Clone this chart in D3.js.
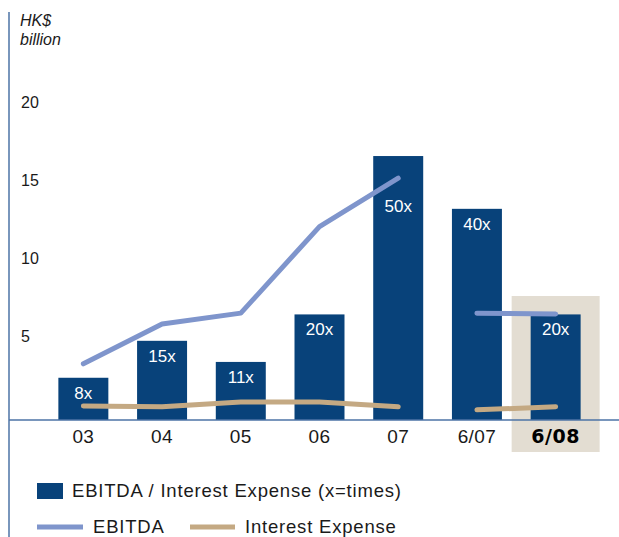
<html>
<head>
<script src="https://d3js.org/d3.v7.min.js"></script>
<style>
  body { margin: 0; background: #fff; }
  text { font-family: "Liberation Sans", Arial, sans-serif; }
</style>
</head>
<body>
<svg width="619" height="537"></svg>
<script>
// data
var periods = ["03", "04", "05", "06", "07", "6/07", "6/08"];
var coverRatio = [8, 15, 11, 20, 50, 40, 20];          // EBITDA / interest expense (x)
var ebitda = [3.6, 6.15, 6.85, 12.4, 15.5, 6.85, 6.8];  // HK$ billion
var interest = [0.9, 0.85, 1.15, 1.15, 0.85, 0.65, 0.85];
var yTicks = [5, 10, 15, 20];
// line segments: annual years and the half-year pair are drawn separately
var segments = [[0, 1, 2, 3, 4], [5, 6]];

var svg = d3.select("svg");

var x = d3.scaleBand()
  .domain(periods)
  .range([44, 595])
  .paddingInner(0.365)
  .paddingOuter(0.1825);

var y = d3.scaleLinear().domain([0, 20]).range([420, 108]);
// bars are scaled on the times-cover value
var yr = d3.scaleLinear().domain([0, 59.1]).range([420, 108]);

// highlight for latest half-year
var hl = periods[periods.length - 1];
svg.append("rect")
  .attr("x", x(hl) - 19)
  .attr("y", 296)
  .attr("width", x.bandwidth() + 38)
  .attr("height", 156)
  .attr("fill", "#e3ddd2");

// bars
svg.selectAll(".bar")
  .data(coverRatio)
  .enter()
  .append("rect")
    .attr("x", function(d, i) { return x(periods[i]); })
    .attr("y", function(d) { return yr(d); })
    .attr("width", x.bandwidth())
    .attr("height", function(d) { return yr(0) - yr(d); })
    .attr("fill", "#08427a");

// lines
var line = d3.line()
  .x(function(i) { return x(periods[i]) + x.bandwidth() / 2; });

function drawLine(vals, color) {
  segments.forEach(function(seg) {
    svg.append("path")
      .attr("d", line.y(function(i) { return y(vals[i]); })(seg))
      .attr("fill", "none")
      .attr("stroke", color)
      .attr("stroke-width", 5)
      .attr("stroke-linecap", "round")
      .attr("stroke-linejoin", "round");
  });
}
drawLine(interest, "#c4a983");
drawLine(ebitda, "#7f95cc");

// bar labels (pushed below the EBITDA line where it crosses the bar top)
svg.selectAll(".lbl")
  .data(coverRatio)
  .enter()
  .append("text")
    .attr("x", function(d, i) { return x(periods[i]) + x.bandwidth() / 2; })
    .attr("y", function(d, i) {
      var top = yr(d), ly = y(ebitda[i]);
      if (ly > top && ly - top < 35) return ly + 34;
      return top + 21;
    })
    .attr("text-anchor", "middle")
    .attr("fill", "#fff")
    .attr("font-size", 17)
    .text(function(d) { return d + "x"; });

// axes lines
svg.append("line")
  .attr("x1", 9).attr("x2", 9).attr("y1", 12).attr("y2", 537)
  .attr("stroke", "#4d73a6").attr("stroke-width", 1.5);
svg.append("line")
  .attr("x1", 9).attr("x2", 619).attr("y1", y(0)).attr("y2", y(0))
  .attr("stroke", "#4d73a6").attr("stroke-width", 1.5);

// y tick labels
svg.selectAll(".yt")
  .data(yTicks)
  .enter()
  .append("text")
    .attr("x", 21)
    .attr("y", function(d) { return y(d); })
    .attr("font-size", 16)
    .attr("fill", "#1a1a1a")
    .text(function(d) { return d; });

svg.append("text").attr("x", 20).attr("y", 26)
  .attr("font-size", 16).attr("font-style", "italic").attr("fill", "#1a1a1a")
  .text("HK$");
svg.append("text").attr("x", 20).attr("y", 45)
  .attr("font-size", 16).attr("font-style", "italic").attr("fill", "#1a1a1a")
  .text("billion");

// x labels
svg.selectAll(".xt")
  .data(periods)
  .enter()
  .append("text")
    .attr("x", function(d) { return x(d) + x.bandwidth() / 2; })
    .attr("y", 443)
    .attr("text-anchor", "middle")
    .attr("font-size", 19)
    .attr("letter-spacing", function(d) { return d === hl ? 0.6 : 0.4; })
    .style("font-family", function(d) { return d === hl ? "'DejaVu Sans', sans-serif" : null; })
    .attr("font-weight", function(d) { return d === hl ? "bold" : "normal"; })
    .attr("fill", function(d) { return d === hl ? "#000" : "#1a1a1a"; })
    .text(function(d) { return d; });

// legend
var lg = svg.append("g")
  .attr("font-size", 18.5)
  .attr("letter-spacing", 0.8)
  .attr("fill", "#1a1a1a");
lg.append("rect").attr("x", 37).attr("y", 483).attr("width", 26).attr("height", 16)
  .attr("fill", "#08427a");
lg.append("text").attr("x", 72).attr("y", 497)
  .text("EBITDA / Interest Expense (x=times)");
lg.append("line").attr("x1", 37).attr("x2", 83).attr("y1", 527).attr("y2", 527)
  .attr("stroke", "#7f95cc").attr("stroke-width", 5);
lg.append("text").attr("x", 93).attr("y", 533)
  .text("EBITDA");
lg.append("line").attr("x1", 190).attr("x2", 235).attr("y1", 527).attr("y2", 527)
  .attr("stroke", "#c4a983").attr("stroke-width", 5);
lg.append("text").attr("x", 245).attr("y", 533)
  .text("Interest Expense");
</script>
</body>
</html>
